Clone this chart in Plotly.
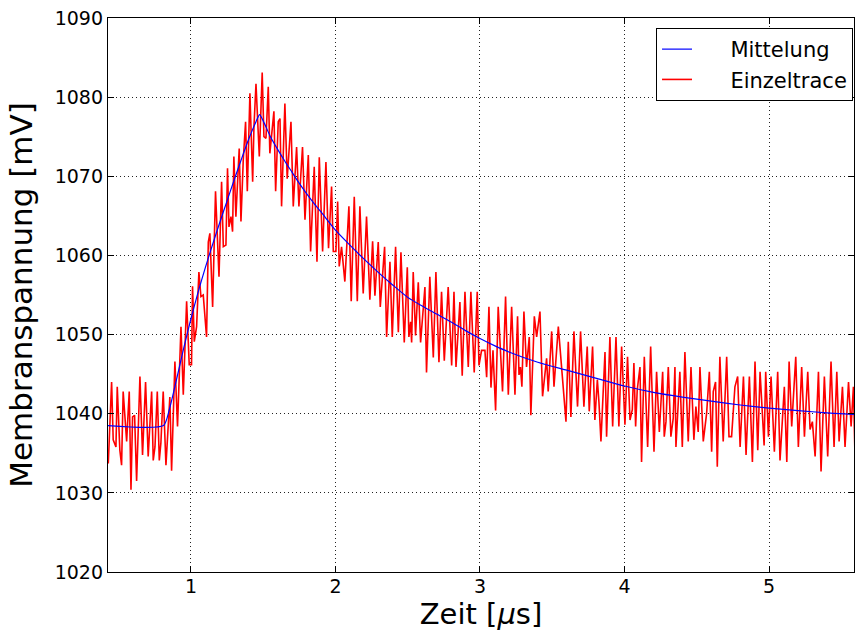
import plotly.graph_objects as go

# ---- Mittelung (averaged trace) ----
avg_t = [0.426, 0.81, 0.85, 0.90, 0.95, 1.00, 1.05, 1.10, 1.15, 1.20, 1.25, 1.30, 1.35,
         1.40, 1.45, 1.475, 1.50, 1.55, 1.60, 1.65, 1.70, 1.75, 1.80, 1.85, 1.90, 2.00,
         2.10, 2.20, 2.30, 2.40, 2.50, 2.60, 2.70, 2.80, 2.90, 3.00, 3.10, 3.20, 3.40,
         3.60, 3.80, 4.00, 4.20, 4.40, 4.60, 4.80, 5.00, 5.20, 5.40, 5.588]
avg_mv = [1038.5, 1038.5, 1040.5, 1044.3, 1048.3, 1052.0, 1055.4, 1058.5, 1061.4, 1064.2,
          1066.9, 1069.6, 1072.2, 1074.7, 1076.9, 1077.8, 1077.0, 1075.0, 1073.4, 1071.9,
          1070.5, 1069.1, 1067.8, 1066.6, 1065.5, 1063.2, 1061.3, 1059.5, 1057.8, 1056.2,
          1054.7, 1053.6, 1052.6, 1051.6, 1050.5, 1049.5, 1048.6, 1047.8, 1046.5, 1045.5,
          1044.5, 1043.5, 1042.7, 1042.1, 1041.6, 1041.1, 1040.7, 1040.4, 1040.1, 1039.9]

# ---- Einzeltrace (single trace) ----
trace_t = [
    0.428, 0.451, 0.462, 0.481, 0.490, 0.508, 0.520, 0.531, 0.555, 0.573,
    0.585, 0.596, 0.610, 0.624, 0.647, 0.665, 0.686, 0.704, 0.728, 0.739,
    0.751, 0.767, 0.781, 0.792, 0.808, 0.827, 0.854, 0.866, 0.889, 0.907,
    0.931, 0.947, 0.970, 0.988, 1.004, 1.011, 1.023, 1.039, 1.055, 1.069,
    1.085, 1.108, 1.120, 1.131, 1.150, 1.170, 1.194, 1.212, 1.224, 1.242,
    1.253, 1.263, 1.277, 1.288, 1.297, 1.311, 1.334, 1.346, 1.362, 1.378,
    1.390, 1.408, 1.427, 1.436, 1.450, 1.473, 1.493, 1.505, 1.519, 1.535,
    1.546, 1.558, 1.574, 1.586, 1.604, 1.616, 1.627,
    1.650, 1.666, 1.692, 1.708, 1.731, 1.747, 1.772, 1.789, 1.812, 1.828,
    1.853, 1.872, 1.888, 1.911, 1.934, 1.952, 1.973, 1.985, 2.003, 2.015,
    2.026, 2.042, 2.065, 2.093, 2.109, 2.130, 2.151, 2.169, 2.192, 2.215,
    2.238, 2.257,
    2.273, 2.296, 2.310, 2.320, 2.340, 2.354, 2.377, 2.393, 2.416, 2.435,
    2.453, 2.476, 2.497, 2.508, 2.520, 2.527, 2.538, 2.554, 2.573, 2.589,
    2.619, 2.630, 2.653, 2.677, 2.695, 2.716, 2.734, 2.753, 2.780, 2.804,
    2.820, 2.834, 2.861, 2.877, 2.896, 2.919, 2.937, 2.960, 2.981, 2.993,
    3.011, 3.034, 3.046, 3.062, 3.076, 3.090, 3.108, 3.126,
    3.156, 3.177, 3.196, 3.219, 3.242, 3.260, 3.270, 3.280, 3.290, 3.304,
    3.322, 3.341, 3.352, 3.376, 3.392, 3.415, 3.433, 3.461, 3.472, 3.496,
    3.512, 3.542, 3.560, 3.576, 3.595, 3.611, 3.629, 3.650, 3.675, 3.696,
    3.719, 3.742, 3.756, 3.779, 3.795, 3.812, 3.823, 3.837, 3.865, 3.876,
    3.899, 3.918, 3.941, 3.961, 3.980, 4.003,
    4.021, 4.038, 4.054, 4.065, 4.077, 4.088, 4.107, 4.118, 4.137, 4.160,
    4.181, 4.204, 4.222, 4.241, 4.264, 4.275, 4.287, 4.303, 4.321, 4.337,
    4.349, 4.356, 4.383, 4.400, 4.418, 4.441, 4.460, 4.480, 4.494, 4.510,
    4.522, 4.545, 4.568, 4.587, 4.603, 4.614, 4.630, 4.642, 4.660, 4.683,
    4.707, 4.723, 4.741, 4.764,
    4.783, 4.800, 4.823, 4.841, 4.864, 4.885, 4.903, 4.922, 4.938, 4.966,
    4.977, 4.996, 5.014, 5.037, 5.060, 5.076, 5.106, 5.123, 5.139, 5.157,
    5.185, 5.203, 5.226, 5.245, 5.268, 5.284, 5.300, 5.319, 5.342, 5.360,
    5.383, 5.406, 5.429, 5.450, 5.469, 5.485, 5.508, 5.526, 5.550, 5.568,
    5.584, 5.595,
]
trace_mv = [
    1033.7, 1044.0, 1036.7, 1035.8, 1043.4, 1035.4, 1033.5, 1042.8, 1036.5, 1042.8,
    1030.4, 1039.6, 1039.8, 1031.5, 1044.7, 1034.8, 1044.0, 1034.6, 1042.8, 1034.1,
    1035.8, 1042.8, 1034.1, 1036.3, 1042.8, 1033.5, 1042.1, 1032.8, 1046.6, 1038.4,
    1051.0, 1042.4, 1054.2, 1046.2, 1046.2, 1056.1, 1049.1, 1051.0, 1057.9, 1054.8,
    1055.0, 1049.7, 1061.7, 1062.8, 1053.5, 1068.1, 1057.3, 1069.3, 1061.1, 1061.3,
    1071.0, 1063.6, 1064.9, 1063.0, 1072.5, 1064.9, 1073.5, 1064.3, 1072.1, 1076.9,
    1068.1, 1080.5, 1069.3, 1076.3, 1081.7, 1072.5, 1083.1, 1075.0, 1074.8, 1081.3,
    1072.9, 1075.0, 1078.2, 1068.1, 1076.9, 1077.3, 1066.2,
    1079.2, 1069.7, 1076.9, 1066.2, 1073.7, 1066.2, 1073.7, 1064.5, 1072.7, 1060.5,
    1071.2, 1059.2, 1072.4, 1060.5, 1071.8, 1060.9, 1068.7, 1060.5, 1060.5, 1066.8,
    1058.6, 1061.1, 1056.7, 1066.2, 1054.2, 1067.4, 1054.2, 1066.2, 1055.2, 1064.9,
    1054.4, 1061.8,
    1054.9, 1061.7, 1053.5, 1056.4, 1061.1, 1049.7, 1059.2, 1049.7, 1061.1, 1050.3,
    1060.4, 1049.0, 1058.5, 1049.7, 1051.6, 1049.0, 1057.9, 1049.9, 1056.6, 1049.0,
    1056.0, 1045.2, 1057.3, 1047.1, 1057.9, 1046.5, 1055.4, 1046.7, 1056.0, 1046.1,
    1055.4, 1045.9, 1054.1, 1044.8, 1055.4, 1045.9, 1055.4, 1045.2, 1055.4, 1046.1,
    1048.0, 1048.0, 1044.6, 1053.5, 1043.3, 1048.0, 1040.4, 1053.5,
    1042.8, 1054.8, 1042.4, 1053.5, 1042.4, 1052.3, 1044.9, 1045.9, 1043.4, 1052.9,
    1045.9, 1049.7, 1039.8, 1052.3, 1049.7, 1052.9, 1042.2, 1047.0, 1042.8, 1050.4,
    1043.4, 1051.0, 1046.8, 1043.0, 1039.0, 1049.1, 1039.6, 1050.4, 1040.9, 1050.4,
    1040.9, 1048.5, 1040.3, 1048.5, 1039.2, 1044.3, 1041.5, 1036.5, 1047.8, 1037.1,
    1049.7, 1038.4, 1049.7, 1038.4, 1048.5, 1038.6,
    1047.2, 1039.2, 1040.5, 1046.4, 1038.4, 1043.0, 1045.9, 1033.9, 1047.2, 1035.8,
    1048.5, 1035.2, 1045.3, 1037.7, 1045.3, 1037.1, 1039.0, 1045.9, 1037.1, 1039.4,
    1045.9, 1035.8, 1045.3, 1035.8, 1047.8, 1036.5, 1045.9, 1036.7, 1040.9, 1037.7,
    1045.9, 1036.5, 1040.0, 1045.3, 1035.2, 1042.8, 1044.0, 1033.3, 1047.2, 1036.5,
    1047.2, 1037.1, 1037.1, 1043.4,
    1044.7, 1035.8, 1044.7, 1034.8, 1044.7, 1033.9, 1046.6, 1035.4, 1045.3, 1036.0,
    1045.3, 1037.1, 1044.7, 1035.2, 1045.3, 1034.1, 1043.4, 1033.9, 1046.6, 1038.4,
    1047.2, 1035.8, 1045.9, 1037.1, 1045.3, 1038.0, 1039.0, 1034.6, 1045.3, 1032.7,
    1044.7, 1034.6, 1046.6, 1035.8, 1045.3, 1036.5, 1043.4, 1035.8, 1044.0, 1038.4,
    1043.4, 1034.6,
]

x_ticks = [1, 2, 3, 4, 5]
y_ticks = [1020, 1030, 1040, 1050, 1060, 1070, 1080, 1090]
x_range = [0.426, 5.588]
y_range = [1020, 1090]

FONT = "DejaVu Sans"
PAD = "\u00a0" * 5  # gap between legend line sample and its label

fig = go.Figure()
fig.add_trace(go.Scatter(x=trace_t, y=trace_mv, mode="lines", name=PAD + "Einzeltrace",
                         line=dict(color="#ff0000", width=1.6), legendrank=2))
fig.add_trace(go.Scatter(x=avg_t, y=avg_mv, mode="lines", name=PAD + "Mittelung",
                         line=dict(color="#0000ff", width=1.2, shape="spline", smoothing=0.6),
                         legendrank=1))

axis_common = dict(
    showline=True, linecolor="black", linewidth=1.3, mirror="ticks",
    ticks="inside", ticklen=6, tickwidth=1, tickcolor="black",
    showgrid=True, gridcolor="#222222", gridwidth=1, griddash="1px,3px",
    zeroline=False, tickfont=dict(family=FONT, size=19, color="black"),
)

fig.update_xaxes(range=x_range, tickvals=x_ticks, ticklabelstandoff=-3, **axis_common,
                 title=dict(text="Zeit [<i>μ</i>s]", font=dict(family=FONT, size=29, color="black"),
                            standoff=6))
fig.update_yaxes(range=y_range, tickvals=y_ticks, **axis_common,
                 title=dict(text="Membranspannung [mV]", font=dict(family=FONT, size=31, color="black"),
                            standoff=12))

fig.update_layout(
    width=855, height=632,
    margin=dict(l=108, r=1, t=18, b=60),
    paper_bgcolor="white", plot_bgcolor="white",
    font=dict(family=FONT, color="black"),
    showlegend=True,
    legend=dict(x=0.9987, y=0.982, xanchor="right", yanchor="top",
                bgcolor="white", bordercolor="black", borderwidth=1,
                font=dict(family=FONT, size=21, color="black"), itemwidth=30),
)

fig.write_html("out.html")
